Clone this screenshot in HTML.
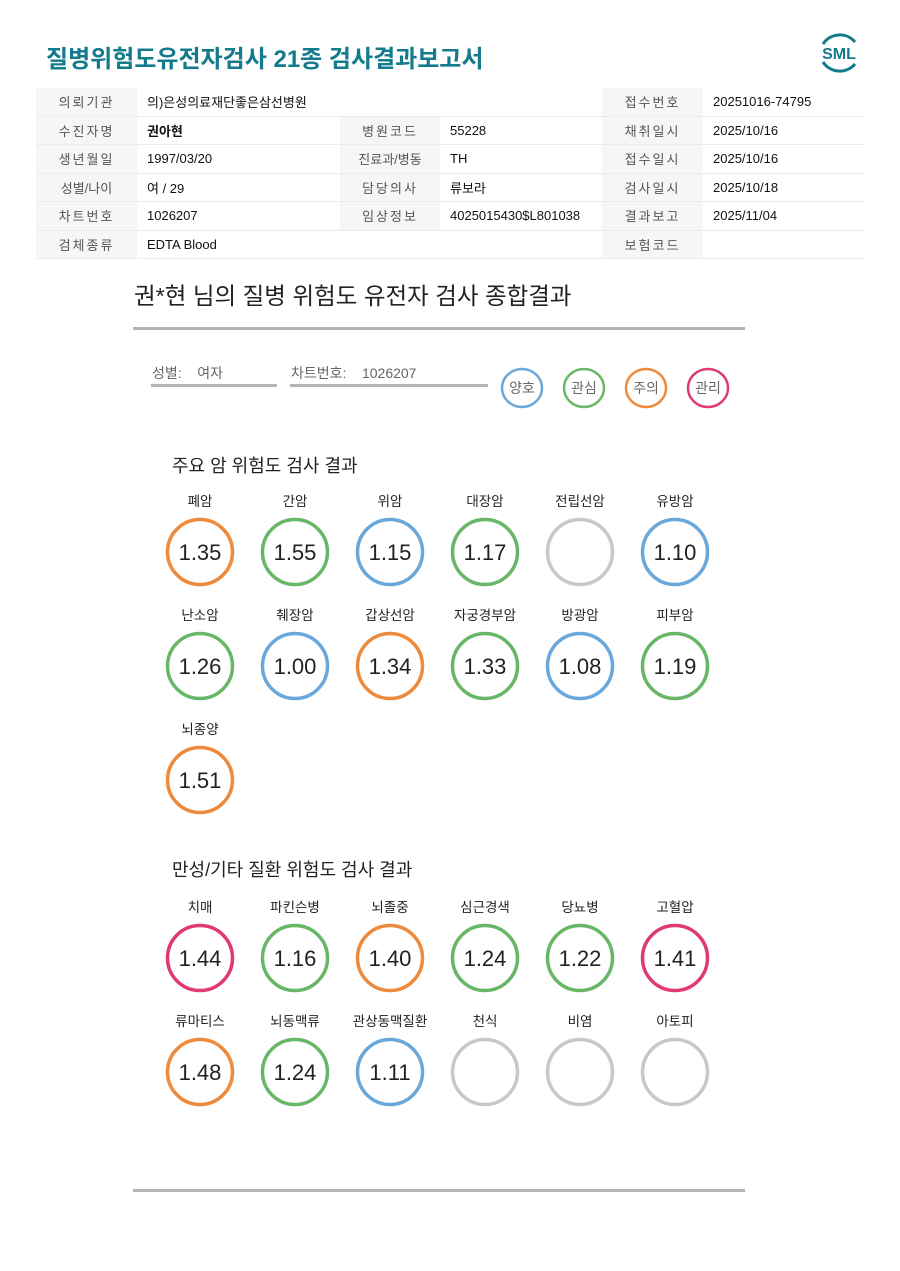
<!DOCTYPE html>
<html><head><meta charset="utf-8">
<style>
body{margin:0;background:#fff;}
#page{position:relative;width:900px;height:1271px;overflow:hidden;font-family:"Liberation Sans","Noto Sans CJK KR",sans-serif;color:#222;}
.t{position:absolute;white-space:nowrap;}
table{position:absolute;left:36px;top:88px;border-collapse:collapse;width:829px;font-size:13px;}
td{height:27.5px;padding:0;border-bottom:1px solid #e8ecef;}
td.l{background:#f4f6f8;color:#555;text-align:center;letter-spacing:2px;}
td.v{padding-left:10px;color:#111;}
</style></head><body>
<div id="page">
<div class="t" style="left:46px;top:39px;font-size:24px;font-weight:bold;color:#147b8c;">질병위험도유전자검사 21종 검사결과보고서</div>
<svg style="position:absolute;left:815px;top:30px" width="48" height="46">
<path d="M8 14 A20 20 0 0 1 40 12" stroke="#147b8c" stroke-width="3" fill="none"/>
<path d="M8 32 A20 20 0 0 0 40 34" stroke="#147b8c" stroke-width="3" fill="none"/>
<text x="24" y="29" text-anchor="middle" font-size="16" font-weight="bold" fill="#147b8c" font-family="Liberation Sans">SML</text></svg>
<table>
<colgroup><col style="width:101px"><col style="width:203px"><col style="width:100px"><col style="width:162px"><col style="width:101px"><col></colgroup>
<tr><td class="l">의뢰기관</td><td class="v" colspan="3">의)은성의료재단좋은삼선병원</td><td class="l">접수번호</td><td class="v">20251016-74795</td></tr>
<tr><td class="l">수진자명</td><td class="v" style="font-weight:bold">권아현</td><td class="l">병원코드</td><td class="v">55228</td><td class="l">채취일시</td><td class="v">2025/10/16</td></tr>
<tr><td class="l">생년월일</td><td class="v">1997/03/20</td><td class="l" style="letter-spacing:0">진료과/병동</td><td class="v">TH</td><td class="l">접수일시</td><td class="v">2025/10/16</td></tr>
<tr><td class="l" style="letter-spacing:0">성별/나이</td><td class="v">여 / 29</td><td class="l">담당의사</td><td class="v">류보라</td><td class="l">검사일시</td><td class="v">2025/10/18</td></tr>
<tr><td class="l">차트번호</td><td class="v">1026207</td><td class="l">임상정보</td><td class="v">4025015430$L801038</td><td class="l">결과보고</td><td class="v">2025/11/04</td></tr>
<tr><td class="l">검체종류</td><td class="v">EDTA Blood</td><td class="l" style="background:#fff"></td><td></td><td class="l">보험코드</td><td class="v"></td></tr>
</table>
<div class="t" style="left:134px;top:277px;font-size:23.5px;">권*현 님의 질병 위험도 유전자 검사 종합결과</div>
<div style="position:absolute;left:133px;top:327px;width:612px;height:3px;background:#b4b4b4"></div>
<div class="t" style="left:152px;top:363px;font-size:14px;color:#666">성별: &nbsp;&nbsp;&nbsp;여자</div>
<div style="position:absolute;left:151px;top:384px;width:126px;height:3px;background:#b4b4b4"></div>
<div class="t" style="left:291px;top:363px;font-size:14px;color:#666">차트번호: &nbsp;&nbsp;&nbsp;1026207</div>
<div style="position:absolute;left:290px;top:384px;width:198px;height:3px;background:#b4b4b4"></div>
<svg id="legend" style="position:absolute;left:0;top:0" width="900" height="420"></svg>
<div class="t" style="left:172px;top:452px;font-size:18px;">주요 암 위험도 검사 결과</div>
<div class="t" style="left:172px;top:856px;font-size:18px;">만성/기타 질환 위험도 검사 결과</div>
<svg id="chart" style="position:absolute;left:0;top:0" width="900" height="1271"></svg>
<div style="position:absolute;left:133px;top:1189px;width:612px;height:3px;background:#b4b4b4"></div>
</div>
<script>
const cancerNames=["폐암","간암","위암","대장암","전립선암","유방암","난소암","췌장암","갑상선암","자궁경부암","방광암","피부암","뇌종양"];
const cancerValues=["1.35","1.55","1.15","1.17","","1.10","1.26","1.00","1.34","1.33","1.08","1.19","1.51"];
const cancerStatus=["주의","관심","양호","관심","","양호","관심","양호","주의","관심","양호","관심","주의"];
const chronicNames=["치매","파킨슨병","뇌졸중","심근경색","당뇨병","고혈압","류마티스","뇌동맥류","관상동맥질환","천식","비염","아토피"];
const chronicValues=["1.44","1.16","1.40","1.24","1.22","1.41","1.48","1.24","1.11","","",""];
const chronicStatus=["관리","관심","주의","관심","관심","관리","주의","관심","양호","","",""];
const legendLabels=["양호","관심","주의","관리"];
const colors={"양호":"#6aa8dc","관심":"#68b767","주의":"#ee8a3c","관리":"#df3b72","":"#c8c8c8"};
const NS="http://www.w3.org/2000/svg";
function mk(p,tag,a){const e=document.createElementNS(NS,tag);for(const k in a)e.setAttribute(k,a[k]);p.appendChild(e);return e;}
const lg=document.getElementById('legend');
legendLabels.forEach((l,i)=>{
 const g=mk(lg,'g',{});
 
 
 const cx=522+i*62;
 mk(g,'ellipse',{cx:cx,cy:388,rx:20,ry:19,fill:'none',stroke:colors[l],'stroke-width':2.5});
 const t=mk(g,'text',{x:cx,y:393,'text-anchor':'middle','font-size':14,fill:'#666'});t.textContent=l;
});
const ch=document.getElementById('chart');
function colX(i){return 200+i*95;}
function drawSet(names,vals,stats,topY,prefix){
 names.forEach((n,i)=>{
  const r=Math.floor(i/6),c=i%6;
  const cy=topY+r*114,cx=colX(c);
  const g=mk(ch,'g',{});
  
  
  const lt=mk(g,'text',{x:cx,y:cy-46,'text-anchor':'middle','font-size':13.5,fill:'#222'});lt.textContent=n;
  mk(g,'circle',{cx:cx,cy:cy,r:32.5,fill:'none',stroke:colors[stats[i]],'stroke-width':3.5});
  if(vals[i]!==""){const vt=mk(g,'text',{x:cx,y:cy+8,'text-anchor':'middle','font-size':22,fill:'#222'});vt.textContent=vals[i];}
 });
}
drawSet(cancerNames,cancerValues,cancerStatus,552,'cancer-risk');
drawSet(chronicNames,chronicValues,chronicStatus,958,'chronic-risk');
</script>
</body></html>
